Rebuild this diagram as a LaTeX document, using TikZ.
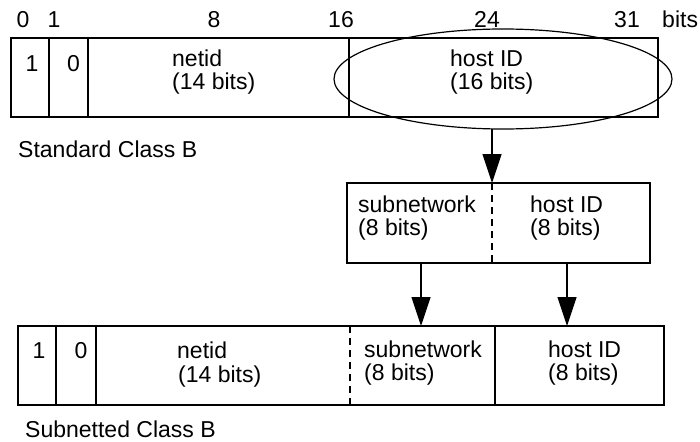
\documentclass[tikz,border=0pt]{standalone}
\usepackage{fontspec}
\setmainfont{Liberation Sans}
\usetikzlibrary{shapes.geometric,arrows.meta}

\tikzset{
  field/.style={draw, rectangle, inner sep=0pt, outer sep=0pt, line width=1.2pt},
  divdash/.style={line width=1.2pt, dash pattern=on 7pt off 5pt},
  txt/.style={anchor=base west, inner sep=0pt, font=\fontsize{23}{24}\selectfont},
  bitno/.style={anchor=base, inner sep=0pt, font=\fontsize{23}{24}\selectfont},
  fieldarrow/.style={line width=1.2pt, -{Triangle[length=29pt,width=19pt]}}
}

\begin{document}
\begin{tikzpicture}[x=1pt,y=-1pt]
\useasboundingbox (0,0) rectangle (700,441);

% bit numbers
\node[bitno] (b0) at (23,28) {0};
\node[bitno] (b1) at (54,28) {1};
\node[bitno] (b8) at (214,28) {8};
\node[bitno] (b16) at (341,28) {16};
\node[bitno] (b24) at (487,28) {24};
\node[bitno] (b31) at (627,28) {31};
\node[txt] (bits) at (662,28) {bits};

% standard class B
\node[field, minimum width=647pt, minimum height=79pt] (std) at (334.5,77.5) {};
\foreach \x in {49,88,349}
{
\draw[line width=1.2pt] (\x,38) -- (\x,117);
}
\node[bitno] (std1) at (32,72) {1};
\node[bitno] (std0) at (73.5,72) {0};
\node[txt] (stdnet) at (172,66.5) {netid};
\node[txt] (stdnetb) at (172,90) {(14 bits)};
\node[txt] (stdhost) at (450,66.5) {host ID};
\node[txt] (stdhostb) at (450,90) {(16 bits)};
\node[draw, ellipse, line width=1.2pt, inner sep=0pt, outer sep=0pt,
  minimum width=338pt, minimum height=100pt] (sel) at (503,79) {};
\node[txt] (stdcap) at (18,157) {Standard Class B};

% split of the host part
\node[field, minimum width=303pt, minimum height=80pt] (mid) at (498.5,223) {};
\coordinate (midsplit) at (492,183);
\draw[divdash] (midsplit) -- (mid.south -| midsplit);
\node[txt] (midsub) at (358,212) {subnetwork};
\node[txt] (midsubb) at (358,235) {(8 bits)};
\node[txt] (midhost) at (530,212) {host ID};
\node[txt] (midhostb) at (530,235) {(8 bits)};
\draw[fieldarrow] (sel.south -| midsplit) -- (midsplit);

% subnetted class B
\node[field, minimum width=646pt, minimum height=79pt] (sub) at (341,365.5) {};
\foreach \x in {56,96,495}
{
\draw[line width=1.2pt] (\x,326) -- (\x,405);
}
\draw[divdash] (350,326) -- (350,405);
\node[bitno] (sub1) at (39,358) {1};
\node[bitno] (sub0) at (81,358) {0};
\node[txt] (subnet) at (177,358) {netid};
\node[txt] (subnetb) at (178,382) {(14 bits)};
\node[txt] (subsub) at (364,357) {subnetwork};
\node[txt] (subsubb) at (364,380) {(8 bits)};
\node[txt] (subhost) at (548,357) {host ID};
\node[txt] (subhostb) at (548,380) {(8 bits)};
\node[txt] (subcap) at (25,437) {Subnetted Class B};

\coordinate (subtip) at (421,326);
\coordinate (hosttip) at (567,326);
\draw[fieldarrow] (mid.south -| subtip) -- (subtip);
\draw[fieldarrow] (mid.south -| hosttip) -- (hosttip);
\end{tikzpicture}
\end{document}
